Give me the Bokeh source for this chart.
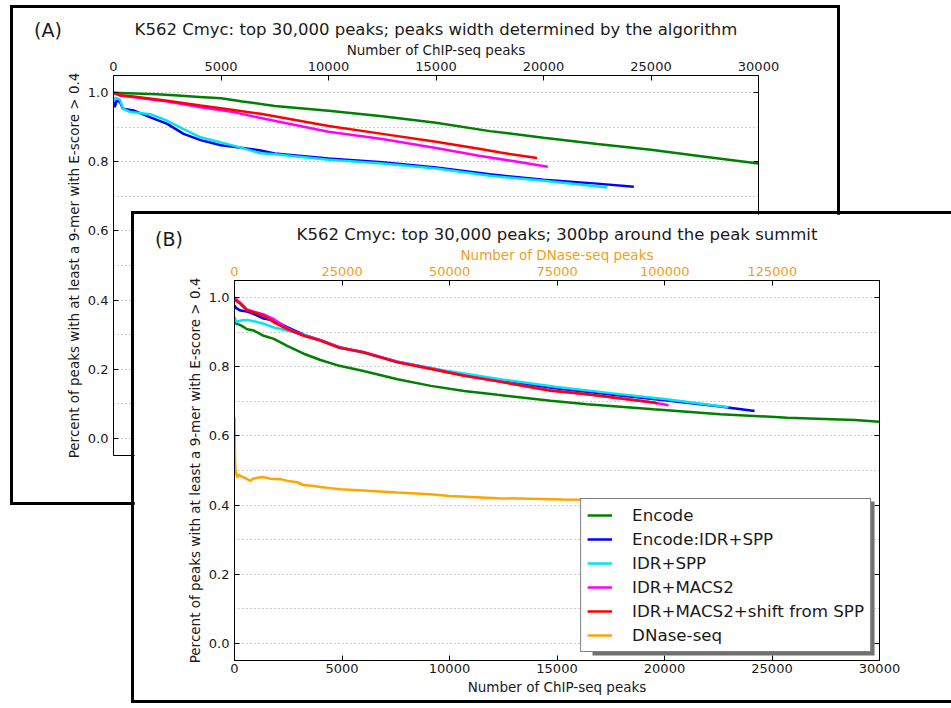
from bokeh.plotting import figure
from bokeh.models import (Range1d, LinearAxis, SingleIntervalTicker, FixedTicker,
                          PrintfTickFormatter, Div, Legend, BoxAnnotation)
from bokeh.layouts import column
from bokeh.embed import file_html
from bokeh.resources import INLINE

FONT = "DejaVu Sans"

# ---------------- Panel A data (x: number of ChIP-seq peaks) ----------------
a_encode_x = [0, 1000, 2000, 3000, 4000, 5000, 6000, 7500, 10000, 12500, 15000, 17500, 20000, 22500, 25000, 27500, 30000]
a_encode_y = [1.0, 0.998, 0.996, 0.992, 0.988, 0.984, 0.975, 0.962, 0.948, 0.932, 0.913, 0.889, 0.870, 0.852, 0.835, 0.815, 0.795]

a_encidr_x = [0, 60, 150, 300, 440, 930, 1720, 2500, 3260, 4050, 5000, 5580, 6840, 7500, 10000, 12500, 15000, 17500, 20000, 22500, 24200]
a_encidr_y = [0.985, 0.958, 0.978, 0.973, 0.954, 0.949, 0.929, 0.910, 0.881, 0.863, 0.848, 0.844, 0.833, 0.824, 0.810, 0.799, 0.784, 0.764, 0.748, 0.737, 0.728]

a_idrspp_x = [0, 100, 300, 440, 790, 1720, 2500, 3260, 4050, 5580, 6840, 7500, 10000, 12500, 15000, 17500, 20000, 22970]
a_idrspp_y = [0.975, 0.985, 0.980, 0.954, 0.944, 0.938, 0.919, 0.895, 0.871, 0.847, 0.825, 0.822, 0.806, 0.795, 0.781, 0.760, 0.745, 0.726]

a_macs_x = [0, 300, 930, 2500, 4050, 5580, 6840, 10000, 12500, 15000, 17000, 18500, 20200]
a_macs_y = [1.0, 0.992, 0.987, 0.975, 0.958, 0.944, 0.927, 0.887, 0.866, 0.840, 0.818, 0.803, 0.786]

a_shift_x = [0, 300, 930, 2500, 4050, 5580, 6840, 10000, 12500, 15000, 17000, 18000, 19700]
a_shift_y = [1.0, 0.993, 0.989, 0.977, 0.963, 0.950, 0.939, 0.904, 0.881, 0.858, 0.838, 0.827, 0.811]

# ---------------- Panel B data ----------------
b_encode_x = [0, 80, 300, 590, 900, 1360, 1830, 2450, 3220, 4000, 4880, 6000, 7580, 9130, 10680, 12230, 14700, 16400, 19490, 22600, 25720, 28840, 30000]
b_encode_y = [0.935, 0.925, 0.920, 0.909, 0.905, 0.890, 0.881, 0.861, 0.838, 0.820, 0.803, 0.788, 0.764, 0.745, 0.730, 0.719, 0.702, 0.692, 0.677, 0.663, 0.653, 0.646, 0.641]

b_encidr_x = [0, 80, 280, 590, 900, 1360, 1830, 2450, 3220, 4000, 4880, 6000, 7580, 10000, 12500, 15000, 17500, 20000, 22500, 24190]
b_encidr_y = [0.978, 0.970, 0.963, 0.960, 0.953, 0.940, 0.934, 0.915, 0.893, 0.877, 0.857, 0.842, 0.815, 0.785, 0.760, 0.737, 0.720, 0.703, 0.686, 0.672]

b_idrspp_x = [0, 80, 280, 590, 900, 1360, 1830, 2450, 3220, 4000, 4880, 6000, 7580, 10000, 12500, 15000, 17500, 20000, 22980]
b_idrspp_y = [0.945, 0.930, 0.934, 0.936, 0.932, 0.925, 0.914, 0.905, 0.893, 0.876, 0.856, 0.840, 0.815, 0.787, 0.763, 0.742, 0.724, 0.707, 0.683]

b_macs_x = [0, 100, 280, 590, 900, 1360, 1830, 2450, 3220, 4000, 4880, 6000, 7580, 9130, 10680, 12230, 14700, 16400, 19490, 20190]
b_macs_y = [1.0, 0.995, 0.985, 0.966, 0.960, 0.952, 0.938, 0.912, 0.891, 0.877, 0.856, 0.843, 0.814, 0.795, 0.775, 0.759, 0.732, 0.721, 0.697, 0.689]

b_shift_x = [0, 100, 280, 590, 900, 1360, 1830, 2450, 3220, 4000, 4880, 6000, 7580, 9130, 10680, 12230, 14700, 16400, 19490, 19670]
b_shift_y = [0.995, 0.990, 0.982, 0.963, 0.958, 0.948, 0.929, 0.909, 0.890, 0.876, 0.855, 0.842, 0.813, 0.794, 0.774, 0.758, 0.731, 0.721, 0.697, 0.694]

# DNase-seq curve, x in number of DNase-seq peaks (top axis)
dnase_x = [0, 80, 200, 400, 700, 1000, 1400, 2500, 3700, 4300, 5300, 6500, 8400, 10700, 12300, 14600, 16000, 18400, 20000, 22300, 24600, 30000, 37900, 45500, 50000, 61100, 76400, 96700, 112200]
dnase_y = [0.655, 0.560, 0.505, 0.490, 0.480, 0.488, 0.484, 0.478, 0.470, 0.476, 0.479, 0.481, 0.476, 0.475, 0.470, 0.466, 0.458, 0.455, 0.452, 0.449, 0.446, 0.442, 0.436, 0.431, 0.426, 0.420, 0.416, 0.413, 0.413]

chip_ticks = [0, 5000, 10000, 15000, 20000, 25000, 30000]
dnase_ticks = [0, 25000, 50000, 75000, 100000, 125000]

labels = ["Encode", "Encode:IDR+SPP", "IDR+SPP", "IDR+MACS2", "IDR+MACS2+shift from SPP", "DNase-seq"]
colors = ["#008000", "#0000ff", "#00e5ee", "#ff00ff", "#ff0000", "#ffa500"]

title_a = "K562 Cmyc: top 30,000 peaks; peaks width determined by the algorithm"
title_b = "K562 Cmyc: top 30,000 peaks; 300bp around the peak summit"
panel_a = "(A)"
panel_b = "(B)"
ylab = "Percent of peaks with at least a 9-mer with E-score > 0.4"
xlab_chip = "Number of ChIP-seq peaks"
xlab_dnase = "Number of DNase-seq peaks"

TXT = "#1a1a1a"
ORANGE_TXT = "#f0a020"

X_LO, X_HI = 0, 30000
Y_LO, Y_HI = -0.05, 1.05
FRAME_W, FRAME_H = 645, 380   # plot-area size in pixels (both panels)


def style_axis(ax, color=TXT, standoff=5, label_standoff=1):
    ax.major_tick_in = 5
    ax.major_tick_out = 0
    ax.minor_tick_in = 0
    ax.minor_tick_out = 0
    ax.axis_line_color = "black"
    ax.major_tick_line_color = "black"
    ax.major_label_text_font = FONT
    ax.major_label_text_font_size = "13px"
    ax.major_label_text_color = color
    ax.major_label_standoff = standoff
    ax.axis_label_text_font = FONT
    ax.axis_label_text_font_size = "13.5px"
    ax.axis_label_text_font_style = "normal"
    ax.axis_label_text_color = color
    ax.axis_label_standoff = label_standoff


def base_fig(w, h, title, xloc, mb):
    p = figure(width=w, height=h, x_range=Range1d(X_LO, X_HI), y_range=Range1d(Y_LO, Y_HI),
               x_axis_location=xloc, output_backend="svg", toolbar_location=None,
               min_border_left=mb[0], min_border_top=mb[1], min_border_right=mb[2],
               min_border_bottom=mb[3], title=title, frame_align=False)
    p.title.text_font = FONT
    p.title.text_font_size = "16.5px"
    p.title.text_font_style = "normal"
    p.title.text_color = TXT
    p.title.align = "center"
    p.title.standoff = 0
    p.xgrid.visible = False
    p.ygrid.ticker = SingleIntervalTicker(interval=0.1, num_minor_ticks=0)
    p.ygrid.grid_line_color = "#9a9a9a"
    p.ygrid.grid_line_dash = "1 3"
    p.ygrid.grid_line_width = 1
    p.outline_line_color = "black"
    p.outline_line_alpha = 1
    p.outline_line_width = 1
    p.border_fill_color = "white"
    p.background_fill_color = "white"
    for ax in p.xaxis:
        if xloc == "above":
            style_axis(ax, standoff=5, label_standoff=1)
        else:
            style_axis(ax, standoff=3, label_standoff=3)
        ax.ticker = FixedTicker(ticks=chip_ticks)
        ax.formatter = PrintfTickFormatter(format="%d")
        ax.axis_label = xlab_chip
    for ax in p.yaxis:
        style_axis(ax, standoff=5, label_standoff=3)
        ax.ticker = SingleIntervalTicker(interval=0.2, num_minor_ticks=0)
        ax.formatter = PrintfTickFormatter(format="%.1f")
        ax.axis_label = ylab
    # right-hand spine ticks only (no labels)
    r = LinearAxis(ticker=SingleIntervalTicker(interval=0.2, num_minor_ticks=0))
    style_axis(r, standoff=0, label_standoff=0)
    r.major_label_text_font_size = "0px"
    r.major_label_text_color = None
    p.add_layout(r, "right")
    return p


# ---------------- Panel A ----------------
pA = base_fig(824, 494, title_a, "above", (100, 67, 79, 47))
a_series = [(a_encode_x, a_encode_y), (a_encidr_x, a_encidr_y), (a_idrspp_x, a_idrspp_y),
            (a_macs_x, a_macs_y), (a_shift_x, a_shift_y)]
for (xs, ys), c in zip(a_series, colors):
    pA.line(xs, ys, line_color=c, line_width=2.5)

# ---------------- Panel B ----------------
pB = base_fig(817, 486, title_b, "below", (100, 66, 72, 40))
pB.extra_x_ranges = {"dnase": Range1d(0, 149900)}
top = LinearAxis(x_range_name="dnase", ticker=FixedTicker(ticks=dnase_ticks),
                 formatter=PrintfTickFormatter(format="%d"), axis_label=xlab_dnase)
style_axis(top, ORANGE_TXT, standoff=5, label_standoff=1)
pB.add_layout(top, "above")

b_series = [(b_encode_x, b_encode_y), (b_encidr_x, b_encidr_y), (b_idrspp_x, b_idrspp_y),
            (b_macs_x, b_macs_y), (b_shift_x, b_shift_y)]
renderers = []
for (xs, ys), c in zip(b_series, colors):
    renderers.append(pB.line(xs, ys, line_color=c, line_width=2.5))
renderers.append(pB.line(dnase_x, dnase_y, line_color=colors[5], line_width=2.5,
                         x_range_name="dnase"))

# legend drop shadow: a grey box offset 3px right/down from the legend box
LEG_MARGIN = 8
LEG_W, LEG_H = 285, 154       # approximate legend box size in pixels
px_x = (X_HI - X_LO) / FRAME_W
px_y = (Y_HI - Y_LO) / FRAME_H
shadow = BoxAnnotation(right=X_HI - (LEG_MARGIN - 3) * px_x,
                       left=X_HI - (LEG_MARGIN + LEG_W - 6) * px_x,
                       bottom=Y_LO + (LEG_MARGIN - 3) * px_y,
                       top=Y_LO + (LEG_MARGIN + LEG_H - 3) * px_y,
                       fill_color="#707070", fill_alpha=1.0, line_color=None)
pB.add_layout(shadow)

lg = Legend(items=[(lab, [rr]) for lab, rr in zip(labels, renderers)])
lg.location = "bottom_right"
lg.margin = LEG_MARGIN
lg.padding = 6
lg.spacing = 4
lg.label_height = 18
lg.glyph_height = 18
lg.glyph_width = 25
lg.label_standoff = 20
lg.label_text_font = FONT
lg.label_text_font_size = "16.7px"
lg.label_text_color = TXT
lg.border_line_width = 1.5
lg.border_line_color = "black"
lg.background_fill_color = "white"
lg.background_fill_alpha = 1.0
pB.add_layout(lg)

label_style = {"font-family": FONT, "font-size": "19px", "color": TXT,
               "line-height": "24px", "position": "relative"}
divA = Div(text=panel_a, width=40, height=24, margin=(-484, 0, 0, 34),
           styles=dict(label_style, **{"z-index": "1"}))
divB = Div(text=panel_b, width=40, height=24, margin=(-473, 0, 0, 155),
           styles=dict(label_style, **{"z-index": "3"}))

pA.margin = (8, 0, 0, 13)
pA.styles = {"outline": "3px solid black"}
pB.margin = (172, 0, 0, 134)
pB.styles = {"outline": "3px solid black", "position": "relative", "z-index": "2"}

layout = column(pA, divA, pB, divB)
open("out.html", "w").write(file_html(layout, INLINE))
